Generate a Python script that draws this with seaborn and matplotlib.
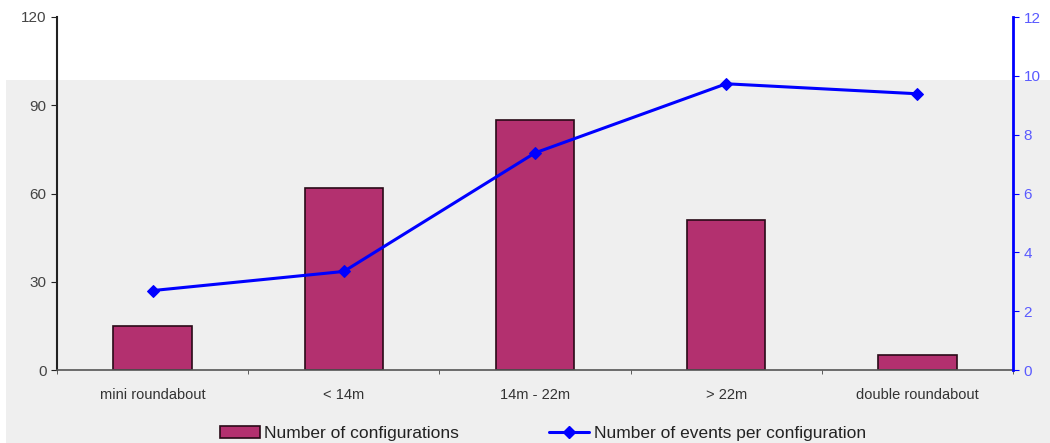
import numpy as np
import pandas as pd
import matplotlib
matplotlib.use('Agg')
import matplotlib.pyplot as plt
from matplotlib.patches import Rectangle
from matplotlib.lines import Line2D
import seaborn as sns

categorias = ['mini roundabout', '< 14m', '14m - 22m', '> 22m', 'double roundabout']
configuraciones = [15, 62, 85, 51, 5]
eventos = [2.7, 3.35, 7.38, 9.73, 9.39]

sns.set_style('white')
plt.rcParams['font.family'] = ['Liberation Sans', 'DejaVu Sans']

df = pd.DataFrame({'cat': categorias, 'conf': configuraciones, 'ev': eventos})

fig = plt.figure(figsize=(10.5, 4.43), dpi=100)
fig.patch.set_facecolor('white')
# fondo gris de la imagen original
fig.patches.append(Rectangle((6 / 1050, 0), 1, (443 - 80) / 443, transform=fig.transFigure,
                             facecolor='#efefef', edgecolor='none', zorder=-10))

ax = fig.add_axes([57 / 1050, 1 - 370 / 443, (1013 - 57) / 1050, (370 - 17) / 443])
ax.set_facecolor('none')
sns.barplot(data=df, x='cat', y='conf', color='#b3306f', edgecolor='#2a0a18',
            linewidth=1.2, width=0.41, saturation=1, ax=ax)
ax.set_xlim(-0.5, 4.5)
ax.set_ylim(0, 120)
ax.set_yticks([0, 30, 60, 90, 120])
ax.set_xlabel('')
ax.set_ylabel('')
ax.set_xticks(np.arange(-0.5, 5, 1), minor=True)
ax.tick_params(axis='x', which='major', length=0, pad=13, labelsize=10.5, labelcolor='#333333')
ax.tick_params(axis='x', which='minor', length=3, direction='out', color='#444444', bottom=True)
ax.tick_params(axis='y', length=4, direction='out', labelsize=11, labelcolor='#444444',
               color='#222222', left=True)
for s in ['top', 'right']:
    ax.spines[s].set_visible(False)
ax.spines['left'].set_color('#222222')
ax.spines['left'].set_linewidth(1.5)
ax.spines['bottom'].set_color('#555555')
ax.spines['bottom'].set_linewidth(1.2)

ax2 = ax.twinx()
sns.lineplot(data=df, x='cat', y='ev', sort=False, color='#0000ff', linewidth=2.2,
             marker='D', markersize=6, markeredgecolor='#0000ff', ax=ax2)
ax2.set_ylim(0, 12)
ax2.set_yticks(range(0, 13, 2))
ax2.set_ylabel('')
ax2.tick_params(axis='y', length=4, direction='out', labelsize=11, labelcolor='#5a5aff',
                color='#0000ff', right=True)
for s in ['top', 'left', 'bottom']:
    ax2.spines[s].set_visible(False)
ax2.spines['right'].set_visible(True)
ax2.spines['right'].set_color('#0000ff')
ax2.spines['right'].set_linewidth(2)

handles = [Rectangle((0, 0), 1, 1, facecolor='#b3306f', edgecolor='#2a0a18', linewidth=1.2),
           Line2D([], [], color='#0000ff', linewidth=2.2, marker='D', markersize=6)]
fig.legend(handles, ['Number of configurations', 'Number of events per configuration'],
           loc='lower center', bbox_to_anchor=(0.517, -0.03), ncol=2, frameon=False,
           fontsize=12.5, columnspacing=5.2, handlelength=2.3, handletextpad=0.25,
           labelcolor='#222222')

fig.savefig('out.png', dpi=100)
